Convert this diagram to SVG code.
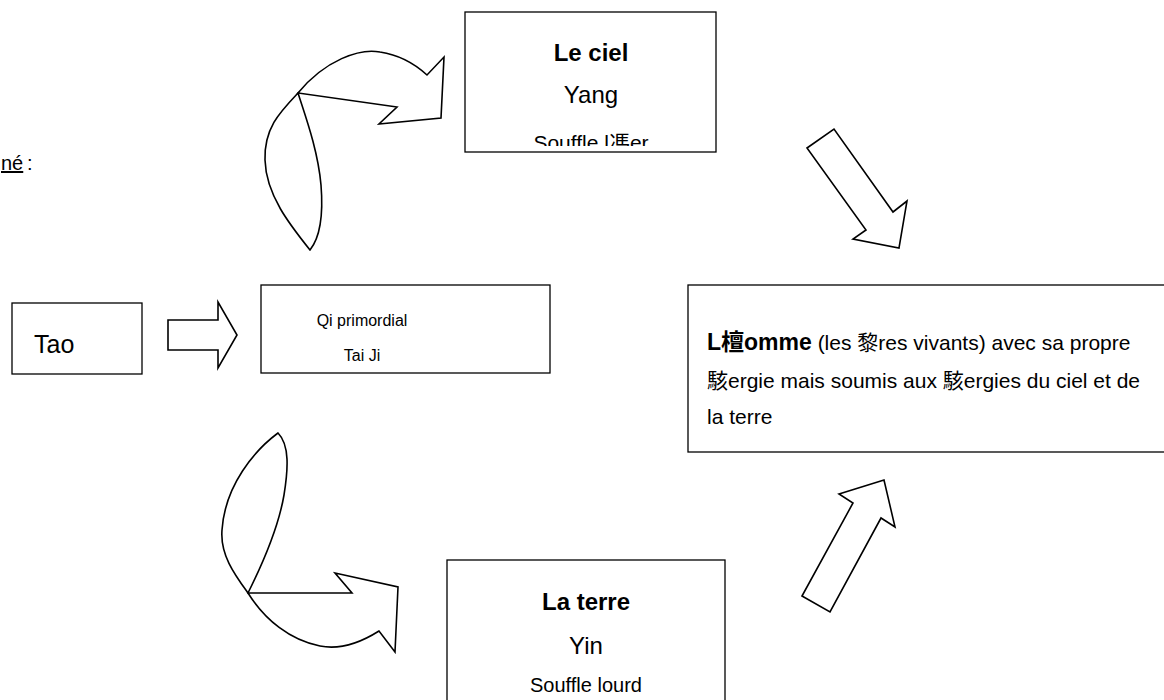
<svg xmlns="http://www.w3.org/2000/svg" width="1164" height="700" viewBox="0 0 1164 700">
<style>
.box{fill:#fff;stroke:#000;stroke-width:1.3}
.sh{fill:#fff;stroke:#000;stroke-width:1.6;stroke-linejoin:miter}
text{font-family:"Liberation Sans","Noto Sans CJK JP",sans-serif;fill:#000}
.b{font-weight:bold}
</style>
<defs>
<clipPath id="clipCiel"><rect x="466" y="13" width="249" height="133"/></clipPath>
</defs>
<rect width="1164" height="700" fill="#fff"/>
<text x="1" y="170" font-size="20" text-decoration="underline">né</text>
<text x="27" y="170" font-size="20">:</text>
<g id="connectors">
<path class="sh" d="M168,320 L218,320 L218,302 L237,335 L218,368 L218,350 L168,350 Z"/>
<path class="sh" d="M298,93 C325,60 360,48 380,52 C400,55 415,64 427,75 L444,57 L441,118 L379,124 L397,107 Z"/>
<path class="sh" d="M298,93 C280,112 264,128 265,160 C266,195 290,225 310,250 C322,235 323,210 321,185 C318,150 305,115 298,93 Z"/>
<path class="sh" d="M248,593 L352,593 L335,573 L398,587 L395,652 L379,631 C360,643 340,650 320,646 C290,640 265,620 248,593 Z"/>
<path class="sh" d="M278,433 C255,450 225,485 222,530 C220,555 235,575 248,593 C262,565 278,530 284,495 C288,470 290,445 278,433 Z"/>
<polygon class="sh" points="807,148 834,129 893,212 907,201 899,248 853,239 866,230"/>
<polygon class="sh" points="802,596 830,612 881,518 895,527 884,480 839,494 853,503"/>
</g>
<g id="tao">
<rect class="box" x="12" y="303" width="130" height="71"/>
<text x="34" y="353" font-size="25">Tao</text>
</g>
<g id="qi">
<rect class="box" x="261" y="285" width="289" height="88"/>
<text x="362" y="326" font-size="16" text-anchor="middle">Qi primordial</text>
<text x="362" y="361" font-size="16" text-anchor="middle">Tai Ji</text>
</g>
<g id="ciel">
<rect class="box" x="465" y="12" width="251" height="140"/>
<text x="591" y="61" font-size="24" class="b" text-anchor="middle">Le ciel</text>
<text x="591" y="103" font-size="24" text-anchor="middle">Yang</text>
<text x="591" y="150" font-size="21" text-anchor="middle" clip-path="url(#clipCiel)">Souffle l馮er</text>
</g>
<g id="terre">
<rect class="box" x="447" y="560" width="278" height="160"/>
<text x="586" y="610" font-size="24" class="b" text-anchor="middle">La terre</text>
<text x="586" y="654" font-size="24" text-anchor="middle">Yin</text>
<text x="586" y="692" font-size="20" text-anchor="middle">Souffle lourd</text>
</g>
<g id="homme">
<rect class="box" x="688" y="285" width="520" height="167"/>
<text x="707" y="350" font-size="21"><tspan class="b" font-size="23">L檀omme</tspan> (les 黎res vivants) avec sa propre</text>
<text x="707" y="388" font-size="21">駭ergie mais soumis aux 駭ergies du ciel et de</text>
<text x="707" y="424" font-size="21">la terre</text>
</g>
</svg>
